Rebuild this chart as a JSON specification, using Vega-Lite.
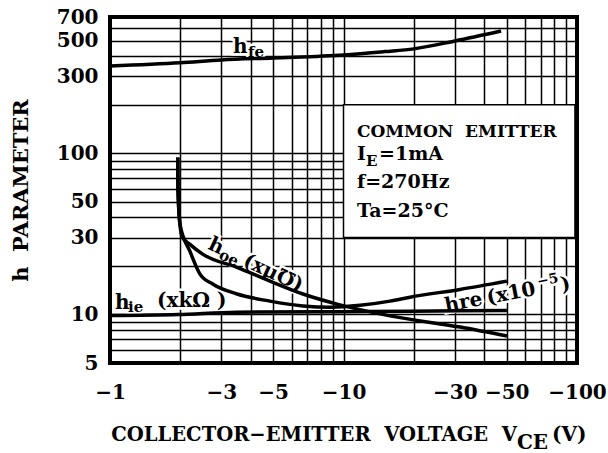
{
  "$schema": "https://vega.github.io/schema/vega-lite/v6.json",
  "width": 467,
  "height": 346,
  "autosize": {"type": "none"},
  "padding": {"left": 110, "top": 17, "right": 31, "bottom": 90},
  "background": "white",
  "config": {
    "view": {"stroke": "black", "strokeWidth": 4, "fill": "white"},
    "axis": {
      "labelFont": "DejaVu Serif", "labelFontWeight": "bold", "labelFontSize": 20, "labelColor": "black",
      "titleFont": "DejaVu Serif", "titleFontWeight": "bold", "titleColor": "black",
      "grid": true, "gridColor": "black", "gridOpacity": 1, "gridWidth": 1.5,
      "ticks": false, "tickSize": 0, "domain": false,
      "labelFlush": false, "labelOverlap": false, "labelBound": false
    },
    "text": {"font": "DejaVu Serif", "fontWeight": "bold", "color": "black"}
  },
  "datasets": {
    "curves": [
      {"s": "hfe", "x": 1, "y": 348}, {"s": "hfe", "x": 2, "y": 364}, {"s": "hfe", "x": 3, "y": 379},
      {"s": "hfe", "x": 5, "y": 390}, {"s": "hfe", "x": 10, "y": 407}, {"s": "hfe", "x": 15, "y": 427},
      {"s": "hfe", "x": 20, "y": 444}, {"s": "hfe", "x": 30, "y": 497}, {"s": "hfe", "x": 47.3, "y": 573},
      {"s": "hie", "x": 1, "y": 9.84}, {"s": "hie", "x": 1.955, "y": 9.98}, {"s": "hie", "x": 3.5, "y": 10.34},
      {"s": "hie", "x": 9.66, "y": 10.4}, {"s": "hie", "x": 19.27, "y": 10.48}, {"s": "hie", "x": 50.1, "y": 10.6},
      {"s": "hoe", "x": 1.95, "y": 94}, {"s": "hoe", "x": 1.955, "y": 60}, {"s": "hoe", "x": 1.994, "y": 36.2},
      {"s": "hoe", "x": 2.034, "y": 30.5}, {"s": "hoe", "x": 2.201, "y": 27.2}, {"s": "hoe", "x": 2.502, "y": 23.6},
      {"s": "hoe", "x": 3.499, "y": 19.6}, {"s": "hoe", "x": 4.843, "y": 16.1}, {"s": "hoe", "x": 6.707, "y": 13.4},
      {"s": "hoe", "x": 9.381, "y": 11.6}, {"s": "hoe", "x": 15.82, "y": 9.8}, {"s": "hoe", "x": 31.54, "y": 8.35},
      {"s": "hoe", "x": 50.1, "y": 7.35},
      {"s": "hre", "x": 1.95, "y": 94}, {"s": "hre", "x": 1.955, "y": 60}, {"s": "hre", "x": 1.994, "y": 36.2},
      {"s": "hre", "x": 2.201, "y": 24.6}, {"s": "hre", "x": 2.429, "y": 17.8}, {"s": "hre", "x": 2.762, "y": 15.4},
      {"s": "hre", "x": 3.499, "y": 13.4}, {"s": "hre", "x": 4.843, "y": 12.1}, {"s": "hre", "x": 6.707, "y": 11.3},
      {"s": "hre", "x": 8.755, "y": 11.1}, {"s": "hre", "x": 11.77, "y": 11.4}, {"s": "hre", "x": 15.82, "y": 12.1},
      {"s": "hre", "x": 19.27, "y": 12.8}, {"s": "hre", "x": 31.54, "y": 14.3}, {"s": "hre", "x": 50.1, "y": 16.1}
    ],
    "box": [{"x": 10, "x2": 98, "y": 30, "y2": 200}],
    "ann": [
      {"g": "A", "t": "h", "x": 3.36, "y": 419},
      {"g": "A", "t": "h", "x": 1.05, "y": 10.8},
      {"g": "A", "t": "(xkΩ\u00a0)", "x": 1.59, "y": 11.1},
      {"g": "B", "t": "fe", "x": 3.9, "y": 396},
      {"g": "B", "t": "ie", "x": 1.195, "y": 10.3},
      {"g": "C", "t": "h", "x": 2.603, "y": 25.7},
      {"g": "C", "t": "(xμ℧)", "x": 3.675, "y": 20.2},
      {"g": "D", "t": "oe", "x": 2.901, "y": 22.3},
      {"g": "E", "t": "hre", "x": 27.5, "y": 10.34},
      {"g": "E", "t": "(x10", "x": 41.6, "y": 11.59},
      {"g": "E", "t": ")", "x": 86.2, "y": 13.94},
      {"g": "F", "t": "−5", "x": 68.1, "y": 14.97},
      {"g": "K", "t": "COMMON\u00a0\u00a0EMITTER", "x": 11.42, "y": 126.8},
      {"g": "G", "t": "I", "x": 11.42, "y": 91.3},
      {"g": "G", "t": "=1mA", "x": 14.19, "y": 91.3},
      {"g": "G", "t": "f=270Hz", "x": 11.42, "y": 61.3},
      {"g": "G", "t": "Ta=25°C", "x": 11.42, "y": 40.0},
      {"g": "H", "t": "E", "x": 12.49, "y": 83.8},
      {"g": "I", "t": "COLLECTOR−EMITTER\u00a0\u00a0VOLTAGE\u00a0\u00a0V", "x": 55.3, "y": 1.647},
      {"g": "J", "t": "CE", "x": 55.3, "y": 1.469},
      {"g": "J", "t": "(V)", "x": 78.2, "y": 1.647}
    ]
  },
  "encoding": {
    "x": {
      "field": "x", "type": "quantitative",
      "scale": {"type": "log", "domain": [1, 100], "nice": false},
      "axis": {
        "values": [1, 2, 3, 4, 5, 6, 7, 8, 9, 10, 20, 30, 40, 50, 60, 70, 80, 90, 100],
        "title": null,
        "labelExpr": "indexof([1,3,5,10,30,50,100], datum.value) >= 0 ? '−' + datum.value : ''",
        "labelPadding": 35, "labelBaseline": "alphabetic"
      }
    },
    "y": {
      "field": "y", "type": "quantitative",
      "scale": {"type": "log", "domain": [5, 700], "nice": false},
      "axis": {
        "values": [5, 6, 7, 8, 9, 10, 20, 30, 40, 50, 60, 70, 80, 90, 100, 200, 300, 400, 500, 600, 700],
        "title": "h\u00a0\u00a0PARAMETER",
        "labelExpr": "indexof([5,10,30,50,100,300,500,700], datum.value) >= 0 ? '' + datum.value : ''",
        "labelPadding": 12,
        "titleFontSize": 21, "titleX": -83, "titleY": 173, "titleAngle": 270,
        "titleAlign": "center", "titleBaseline": "alphabetic"
      }
    }
  },
  "layer": [
    {
      "data": {"name": "box"},
      "mark": {"type": "rect", "fill": "white", "stroke": "black", "strokeWidth": 1.5},
      "encoding": {"x2": {"field": "x2"}, "y2": {"field": "y2"}}
    },
    {
      "data": {"name": "ann"}, "transform": [{"filter": "datum.g === 'A'"}],
      "mark": {"type": "text", "align": "left", "baseline": "alphabetic", "fontSize": 20, "color": "white", "stroke": "white", "strokeWidth": 5},
      "encoding": {"text": {"field": "t"}}
    },
    {
      "data": {"name": "ann"}, "transform": [{"filter": "datum.g === 'B'"}],
      "mark": {"type": "text", "align": "left", "baseline": "alphabetic", "fontSize": 15, "color": "white", "stroke": "white", "strokeWidth": 5},
      "encoding": {"text": {"field": "t"}}
    },
    {
      "data": {"name": "ann"}, "transform": [{"filter": "datum.g === 'C'"}],
      "mark": {"type": "text", "align": "left", "baseline": "alphabetic", "fontSize": 20, "angle": 25, "color": "white", "stroke": "white", "strokeWidth": 5},
      "encoding": {"text": {"field": "t"}}
    },
    {
      "data": {"name": "ann"}, "transform": [{"filter": "datum.g === 'D'"}],
      "mark": {"type": "text", "align": "left", "baseline": "alphabetic", "fontSize": 15, "angle": 25, "color": "white", "stroke": "white", "strokeWidth": 5},
      "encoding": {"text": {"field": "t"}}
    },
    {
      "data": {"name": "ann"}, "transform": [{"filter": "datum.g === 'E'"}],
      "mark": {"type": "text", "align": "left", "baseline": "alphabetic", "fontSize": 20, "angle": 349, "color": "white", "stroke": "white", "strokeWidth": 5},
      "encoding": {"text": {"field": "t"}}
    },
    {
      "data": {"name": "ann"}, "transform": [{"filter": "datum.g === 'F'"}],
      "mark": {"type": "text", "align": "left", "baseline": "alphabetic", "fontSize": 14, "angle": 349, "color": "white", "stroke": "white", "strokeWidth": 5},
      "encoding": {"text": {"field": "t"}}
    },
    {
      "data": {"name": "curves"},
      "mark": {"type": "line", "color": "black", "strokeWidth": 3.5, "interpolate": "monotone"},
      "encoding": {"detail": {"field": "s"}}
    },
    {
      "data": {"name": "ann"}, "transform": [{"filter": "datum.g === 'A'"}],
      "mark": {"type": "text", "align": "left", "baseline": "alphabetic", "fontSize": 20},
      "encoding": {"text": {"field": "t"}}
    },
    {
      "data": {"name": "ann"}, "transform": [{"filter": "datum.g === 'B'"}],
      "mark": {"type": "text", "align": "left", "baseline": "alphabetic", "fontSize": 15},
      "encoding": {"text": {"field": "t"}}
    },
    {
      "data": {"name": "ann"}, "transform": [{"filter": "datum.g === 'C'"}],
      "mark": {"type": "text", "align": "left", "baseline": "alphabetic", "fontSize": 20, "angle": 25},
      "encoding": {"text": {"field": "t"}}
    },
    {
      "data": {"name": "ann"}, "transform": [{"filter": "datum.g === 'D'"}],
      "mark": {"type": "text", "align": "left", "baseline": "alphabetic", "fontSize": 15, "angle": 25},
      "encoding": {"text": {"field": "t"}}
    },
    {
      "data": {"name": "ann"}, "transform": [{"filter": "datum.g === 'E'"}],
      "mark": {"type": "text", "align": "left", "baseline": "alphabetic", "fontSize": 20, "angle": 349},
      "encoding": {"text": {"field": "t"}}
    },
    {
      "data": {"name": "ann"}, "transform": [{"filter": "datum.g === 'F'"}],
      "mark": {"type": "text", "align": "left", "baseline": "alphabetic", "fontSize": 14, "angle": 349},
      "encoding": {"text": {"field": "t"}}
    },
    {
      "data": {"name": "ann"}, "transform": [{"filter": "datum.g === 'K'"}],
      "mark": {"type": "text", "align": "left", "baseline": "alphabetic", "fontSize": 17},
      "encoding": {"text": {"field": "t"}}
    },
    {
      "data": {"name": "ann"}, "transform": [{"filter": "datum.g === 'G'"}],
      "mark": {"type": "text", "align": "left", "baseline": "alphabetic", "fontSize": 19},
      "encoding": {"text": {"field": "t"}}
    },
    {
      "data": {"name": "ann"}, "transform": [{"filter": "datum.g === 'H'"}],
      "mark": {"type": "text", "align": "left", "baseline": "alphabetic", "fontSize": 15},
      "encoding": {"text": {"field": "t"}}
    },
    {
      "data": {"name": "ann"}, "transform": [{"filter": "datum.g === 'I'"}],
      "mark": {"type": "text", "align": "right", "baseline": "alphabetic", "fontSize": 19.5},
      "encoding": {"text": {"field": "t"}}
    },
    {
      "data": {"name": "ann"}, "transform": [{"filter": "datum.g === 'J'"}],
      "mark": {"type": "text", "align": "left", "baseline": "alphabetic", "fontSize": 20},
      "encoding": {"text": {"field": "t"}}
    }
  ]
}
